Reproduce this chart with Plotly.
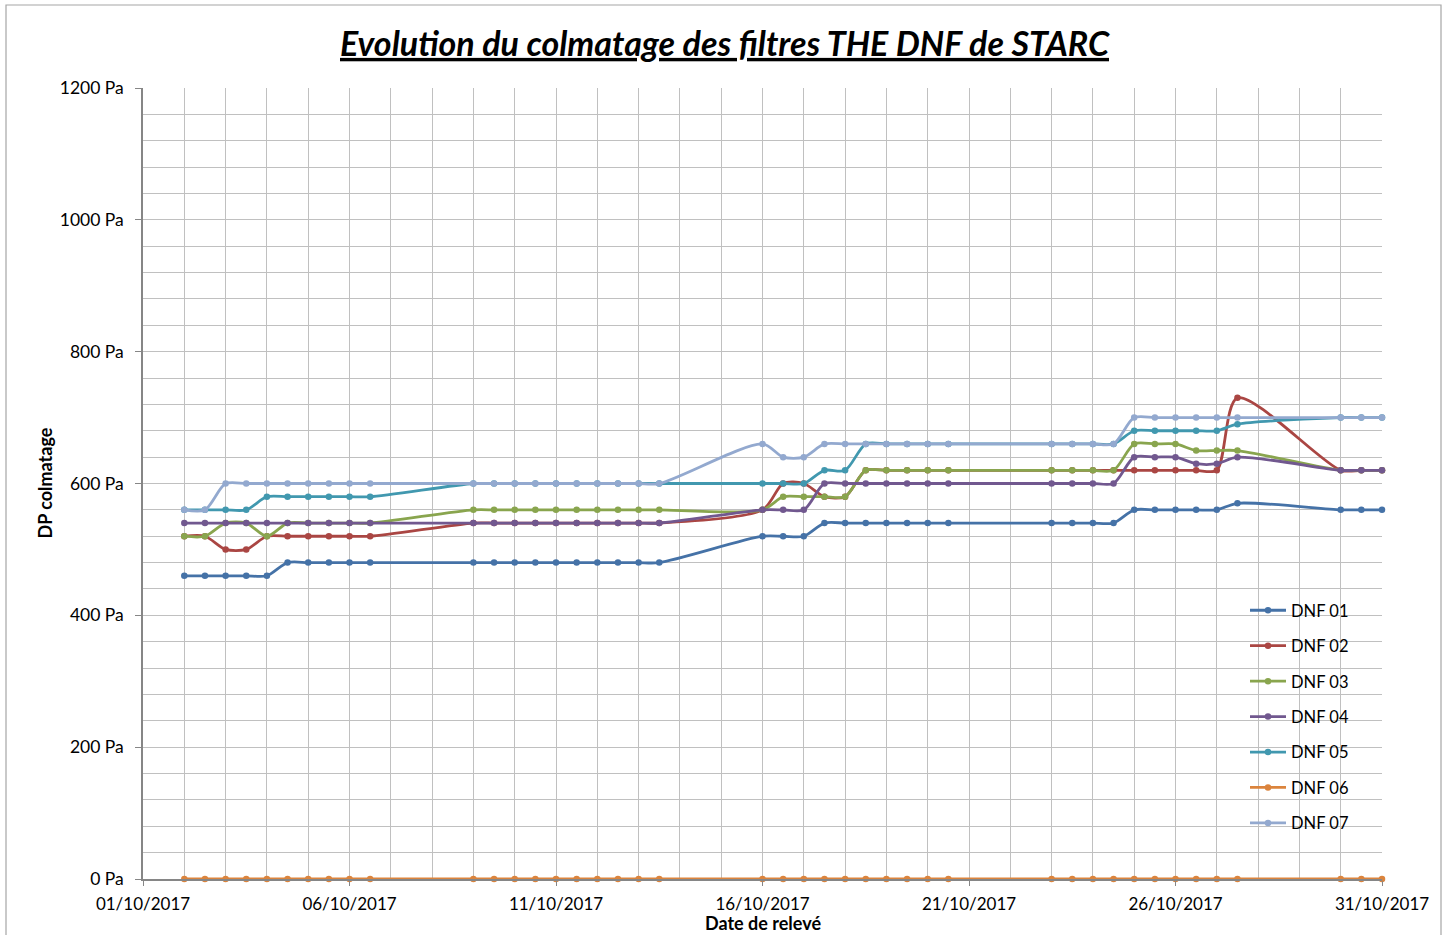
import plotly.graph_objects as go

dates = [
    "2017-10-02 00:00", "2017-10-02 12:00", "2017-10-03 00:00", "2017-10-03 12:00", "2017-10-04 00:00",
    "2017-10-04 12:00", "2017-10-05 00:00", "2017-10-05 12:00", "2017-10-06 00:00", "2017-10-06 12:00",
    "2017-10-09 00:00", "2017-10-09 12:00", "2017-10-10 00:00", "2017-10-10 12:00", "2017-10-11 00:00",
    "2017-10-11 12:00", "2017-10-12 00:00", "2017-10-12 12:00", "2017-10-13 00:00", "2017-10-13 12:00",
    "2017-10-16 00:00", "2017-10-16 12:00", "2017-10-17 00:00", "2017-10-17 12:00", "2017-10-18 00:00",
    "2017-10-18 12:00", "2017-10-19 00:00", "2017-10-19 12:00", "2017-10-20 00:00", "2017-10-20 12:00",
    "2017-10-23 00:00", "2017-10-23 12:00", "2017-10-24 00:00", "2017-10-24 12:00", "2017-10-25 00:00",
    "2017-10-25 12:00", "2017-10-26 00:00", "2017-10-26 12:00", "2017-10-27 00:00", "2017-10-27 12:00",
    "2017-10-30 00:00", "2017-10-30 12:00", "2017-10-31 00:00",
]

dnf01 = [460, 460, 460, 460, 460, 480, 480, 480, 480, 480,
         480, 480, 480, 480, 480, 480, 480, 480, 480, 480,
         520, 520, 520, 540, 540, 540, 540, 540, 540, 540,
         540, 540, 540, 540, 560, 560, 560, 560, 560, 570,
         560, 560, 560]
dnf02 = [520, 520, 500, 500, 520, 520, 520, 520, 520, 520,
         540, 540, 540, 540, 540, 540, 540, 540, 540, 540,
         560, 600, 600, 580, 580, 620, 620, 620, 620, 620,
         620, 620, 620, 620, 620, 620, 620, 620, 620, 730,
         620, 620, 620]
dnf03 = [520, 520, 540, 540, 520, 540, 540, 540, 540, 540,
         560, 560, 560, 560, 560, 560, 560, 560, 560, 560,
         560, 580, 580, 580, 580, 620, 620, 620, 620, 620,
         620, 620, 620, 620, 660, 660, 660, 650, 650, 650,
         620, 620, 620]
dnf04 = [540, 540, 540, 540, 540, 540, 540, 540, 540, 540,
         540, 540, 540, 540, 540, 540, 540, 540, 540, 540,
         560, 560, 560, 600, 600, 600, 600, 600, 600, 600,
         600, 600, 600, 600, 640, 640, 640, 630, 630, 640,
         620, 620, 620]
dnf05 = [560, 560, 560, 560, 580, 580, 580, 580, 580, 580,
         600, 600, 600, 600, 600, 600, 600, 600, 600, 600,
         600, 600, 600, 620, 620, 660, 660, 660, 660, 660,
         660, 660, 660, 660, 680, 680, 680, 680, 680, 690,
         700, 700, 700]
dnf06 = [0, 0, 0, 0, 0, 0, 0, 0, 0, 0,
         0, 0, 0, 0, 0, 0, 0, 0, 0, 0,
         0, 0, 0, 0, 0, 0, 0, 0, 0, 0,
         0, 0, 0, 0, 0, 0, 0, 0, 0, 0,
         0, 0, 0]
dnf07 = [560, 560, 600, 600, 600, 600, 600, 600, 600, 600,
         600, 600, 600, 600, 600, 600, 600, 600, 600, 600,
         660, 640, 640, 660, 660, 660, 660, 660, 660, 660,
         660, 660, 660, 660, 700, 700, 700, 700, 700, 700,
         700, 700, 700]

series_names = ["DNF 01", "DNF 02", "DNF 03", "DNF 04", "DNF 05", "DNF 06", "DNF 07"]
series_values = [dnf01, dnf02, dnf03, dnf04, dnf05, dnf06, dnf07]
colors = ["#4572A7", "#AA4643", "#89A54E", "#71588F", "#4198AF", "#DB843D", "#93A9CF"]

FONT = "Lato"

fig = go.Figure()
for name, vals, col in zip(series_names, series_values, colors):
    fig.add_trace(go.Scatter(
        x=dates, y=vals, name=name, legendgroup=name,
        mode="lines+markers",
        line=dict(color=col, width=2.8, shape="spline", smoothing=0.8),
        marker=dict(color=col, size=6.5),
        cliponaxis=False,
    ))

grid = "#C0C0C0"
axis_col = "#868686"

fig.update_layout(
    width=1449, height=935,
    margin=dict(l=143, r=67, t=88, b=56),
    paper_bgcolor="white", plot_bgcolor="white",
    font=dict(family=FONT, size=16, color="#000000"),
    title=dict(
        text="<b><i><u>Evolution du colmatage des filtres THE DNF de STARC</u></i></b>",
        x=0.5, xref="container", xanchor="center",
        y=1 - 44 / 935, yref="container", yanchor="middle",
        font=dict(family=FONT, size=34, color="#000000"),
    ),
    xaxis=dict(
        type="date",
        range=["2017-10-01", "2017-10-31"],
        tick0="2017-10-01", dtick=5 * 86400000,
        tickformat="%d/%m/%Y",
        tickfont=dict(family=FONT, size=17),
        ticklabelstandoff=4,
        showgrid=True, gridcolor=grid, gridwidth=1,
        minor=dict(dtick=86400000, showgrid=True, gridcolor=grid, gridwidth=1),
        showline=True, linecolor=axis_col, linewidth=1.5,
        ticks="outside", ticklen=5, tickcolor=axis_col,
        zeroline=False,
    ),
    yaxis=dict(
        range=[0, 1200], dtick=200, tick0=0,
        ticksuffix=" Pa",
        tickfont=dict(family=FONT, size=17.5),
        ticklabelstandoff=8,
        showgrid=True, gridcolor=grid, gridwidth=1,
        minor=dict(dtick=40, showgrid=True, gridcolor=grid, gridwidth=1),
        showline=True, linecolor=axis_col, linewidth=1.5,
        ticks="outside", ticklen=6, tickcolor=axis_col,
        zeroline=False,
    ),
    legend=dict(
        x=(1245 - 143) / 1239, xanchor="left",
        y=(879 - 593) / 791, yanchor="top",
        bgcolor="rgba(0,0,0,0)",
        font=dict(family=FONT, size=16.5),
        tracegroupgap=11,
        traceorder="grouped",
        itemwidth=36,
    ),
    annotations=[
        dict(text="<b>DP colmatage</b>", xref="paper", yref="paper",
             x=(44 - 143) / 1239, y=0.5, xanchor="center", yanchor="middle",
             textangle=-90, showarrow=False, font=dict(family=FONT, size=18)),
        dict(text="<b>Date de relevé</b>", xref="paper", yref="paper",
             x=0.5, y=(879 - 923) / 791, xanchor="center", yanchor="middle",
             showarrow=False, font=dict(family=FONT, size=18)),
    ],
    shapes=[
        dict(type="rect", xref="paper", yref="paper",
             x0=(6 - 143) / 1239, x1=(1441 - 143) / 1239,
             y0=(879 - 945) / 791, y1=(879 - 5) / 791,
             line=dict(color="#A6A6A6", width=1.2), fillcolor="rgba(0,0,0,0)",
             layer="below"),
    ],
)

fig.write_html("out.html", config={"displayModeBar": False},
               post_script="document.body.style.margin='0';")
